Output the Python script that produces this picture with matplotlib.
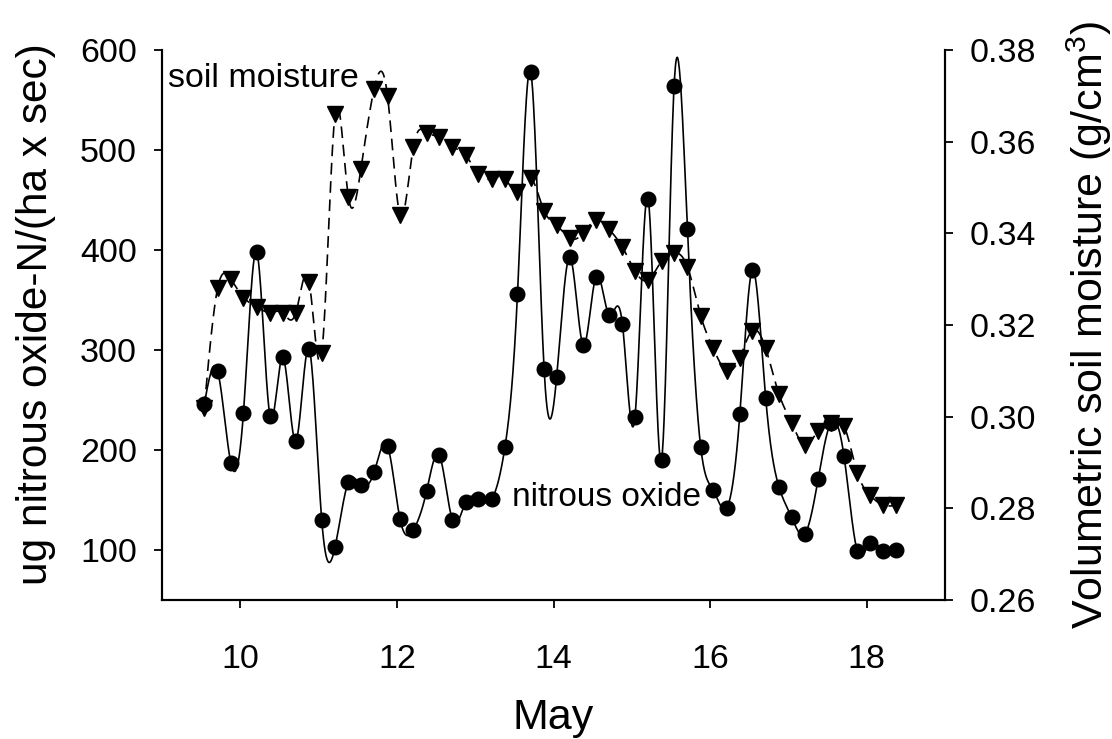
import numpy as np
import matplotlib
matplotlib.use("Agg")
import matplotlib.pyplot as plt

plt.rcParams['font.family'] = ['Liberation Sans', 'DejaVu Sans']
plt.rcParams['mathtext.fontset'] = 'custom'
plt.rcParams['mathtext.rm'] = 'Liberation Sans'

# sampling times (day of May)
days = [9.54, 9.71, 9.88, 10.04, 10.21, 10.38, 10.54, 10.71, 10.88, 11.04,
        11.21, 11.38, 11.54, 11.71, 11.88, 12.04, 12.21, 12.38, 12.54, 12.71,
        12.88, 13.04, 13.21, 13.38, 13.54, 13.71, 13.88, 14.04, 14.21, 14.38,
        14.54, 14.71, 14.88, 15.04, 15.21, 15.38, 15.54, 15.71, 15.88, 16.04,
        16.21, 16.38, 16.54, 16.71, 16.88, 17.04, 17.21, 17.38, 17.54, 17.71,
        17.88, 18.04, 18.21, 18.38]

# nitrous oxide flux, ug N/(ha x sec)
n2o = [246, 279, 187, 237, 398, 234, 293, 209, 301, 130,
       103, 168, 165, 178, 204, 131, 120, 159, 195, 130,
       148, 151, 151, 203, 356, 578, 281, 273, 393, 305,
       373, 335, 326, 233, 451, 190, 564, 421, 203, 160,
       142, 236, 380, 252, 163, 133, 116, 171, 227, 194,
       99, 107, 99, 100]

# volumetric soil moisture, g/cm3
moist = [0.302, 0.328, 0.330, 0.326, 0.324, 0.3227, 0.3227, 0.3227, 0.3293, 0.3138,
         0.366, 0.348, 0.354, 0.3716, 0.370, 0.344, 0.3588, 0.362, 0.361, 0.3589,
         0.357, 0.3529, 0.3519, 0.3519, 0.349, 0.352, 0.3449, 0.3418, 0.3389, 0.340,
         0.3429, 0.3409, 0.337, 0.3318, 0.3298, 0.334, 0.3358, 0.3327, 0.322, 0.3149,
         0.310, 0.3129, 0.3188, 0.3149, 0.3049, 0.2987, 0.2938, 0.2969, 0.2987, 0.298,
         0.2878, 0.2829, 0.2807, 0.2807]


def spline(x, y, n=30):
    # natural cubic spline through the points, like the sigmaplot curve
    x = np.asarray(x, float)
    y = np.asarray(y, float)
    m = len(x)
    h = np.diff(x)
    A = np.zeros((m, m))
    b = np.zeros(m)
    A[0, 0] = A[-1, -1] = 1
    for i in range(1, m - 1):
        A[i, i - 1] = h[i - 1]
        A[i, i] = 2 * (h[i - 1] + h[i])
        A[i, i + 1] = h[i]
        b[i] = 6 * ((y[i + 1] - y[i]) / h[i] - (y[i] - y[i - 1]) / h[i - 1])
    M = np.linalg.solve(A, b)
    xs, ys = [], []
    for i in range(m - 1):
        t = np.linspace(x[i], x[i + 1], n, endpoint=(i == m - 2))
        a = x[i + 1] - t
        c = t - x[i]
        s = (M[i] * a ** 3 + M[i + 1] * c ** 3) / (6 * h[i]) \
            + (y[i] / h[i] - M[i] * h[i] / 6) * a \
            + (y[i + 1] / h[i] - M[i + 1] * h[i] / 6) * c
        xs.append(t)
        ys.append(s)
    return np.concatenate(xs), np.concatenate(ys)


fig = plt.figure(figsize=(11.12, 7.39), dpi=100)
ax = fig.add_axes([162 / 1112, 1 - 600 / 739, 783 / 1112, 550 / 739])
ax2 = ax.twinx()

sx, sy = spline(days, n2o)
ax.plot(sx, sy, '-', color='k', lw=1.2)
ax.plot(days, n2o, 'o', color='k', ms=10.5, ls='none')

mx, my = spline(days, moist)
ax2.plot(mx, my, color='k', lw=1.2, dashes=(7, 4))
ax2.plot(days, moist, 'v', color='k', ms=12, ls='none')

ax.set_xlim(9, 19)
ax.set_ylim(50, 600)
ax2.set_ylim(0.26, 0.38)
ax.set_xticks([10, 12, 14, 16, 18])
ax.set_yticks([100, 200, 300, 400, 500, 600])
ax2.set_yticks([0.26, 0.28, 0.30, 0.32, 0.34, 0.36, 0.38])
ax2.set_yticklabels(['%.2f' % v for v in ax2.get_yticks()])

for a in (ax, ax2):
    a.spines['top'].set_visible(False)
    for s in a.spines.values():
        s.set_linewidth(1.5)
ax.tick_params(axis='both', direction='out', length=6, width=1.3, labelsize=24.5)
ax.tick_params(axis='x', pad=26)
ax.tick_params(axis='y', pad=12)
ax2.tick_params(axis='y', direction='out', length=6, width=1.3, labelsize=24.5, pad=12)

ax.set_xlabel('May', fontsize=31, labelpad=16)
ax.set_ylabel('ug nitrous oxide-N/(ha x sec)', fontsize=30.5, labelpad=16)
ax.yaxis.set_label_coords(-0.136, 0.52)
ax2.set_ylabel('Volumetric soil moisture (g/cm$^3$)', fontsize=31, labelpad=20)

ax.text(9.08, 572, 'soil moisture', fontsize=24.5, va='center', ha='left')
ax.text(13.47, 153, 'nitrous oxide', fontsize=24, va='center', ha='left')

fig.savefig('out.png', dpi=100)
